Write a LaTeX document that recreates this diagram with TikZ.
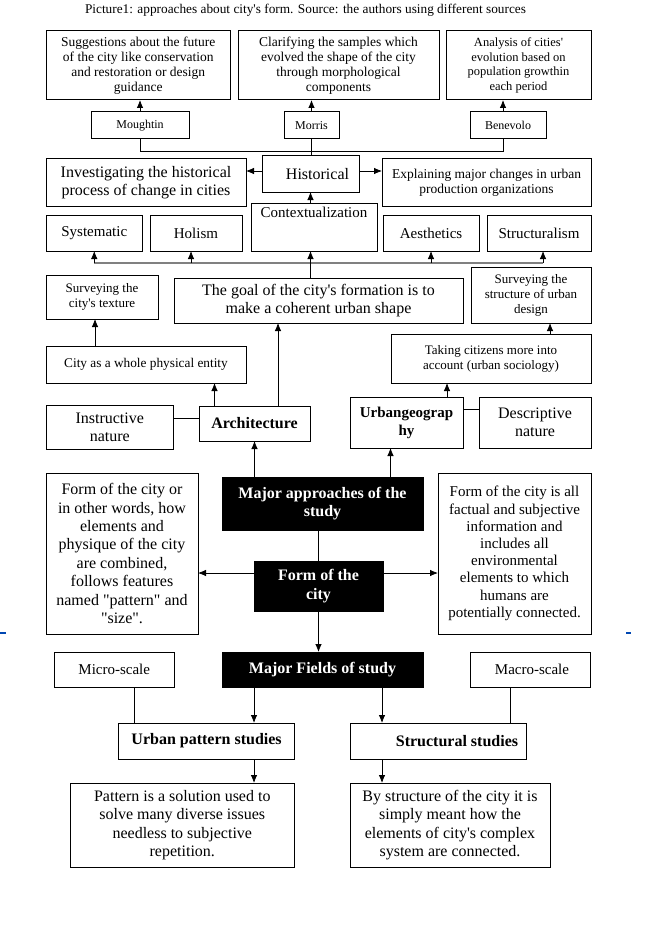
\documentclass[tikz,border=0pt]{standalone}
\usepackage{fontspec}
\setmainfont{Liberation Serif}[Ligatures=TeXOff]
\usepackage{tikz}
\usetikzlibrary{arrows.meta}
\tikzset{>={Latex[length=8pt,width=6.5pt]}}

\begin{document}
\begin{tikzpicture}[x=1pt, y=-1pt, line width=0.8pt,
    box/.style={draw, line width=1pt, inner sep=0pt, outer sep=0pt, align=center},
    wh/.style 2 args={minimum width=#1, minimum height=#2},
    dark/.style={box, fill=black, text=white, font=\bfseries\fontsize{16}{18.4}\selectfont},
    big/.style={font=\fontsize{16}{18.4}\selectfont},
    bigb/.style={font=\bfseries\fontsize{16}{18.4}\selectfont},
    med/.style={font=\fontsize{15}{17.2}\selectfont},
    mid/.style={font=\fontsize{13.5}{15}\selectfont},
    small/.style={font=\fontsize{12.5}{14.5}\selectfont},
    busline/.style={line width=2pt, draw=black!50},
    pagemark/.style={line width=1.2pt, draw=blue!60!cyan!70!black}]
    \useasboundingbox (0,0) rectangle (657,928);

    % Coordinates
    \coordinate (bus) at (310,263);
    \coordinate (laneL) at (254,0);
    \coordinate (laneR) at (382,0);

    % Title
    \node[font=\fontsize{13.3}{15}\selectfont] (title) at (305.5,10) {Picture1: approaches about city's form. Source: the authors using different sources};

    % Authors
    \node[box, mid, wh={184.5}{69}] (sugg) at (138.25,65.5) {Suggestions about the future\\of the city like conservation\\and restoration or design\\guidance};
    \node[box, mid, wh={201}{69}] (clar) at (338.5,65.5) {Clarifying the samples which\\evolved the shape of the city\\through morphological\\components};
    \node[box, small, wh={145}{69}] (anal) at (518.5,65.5) {Analysis of cities'\\evolution based on\\population growthin\\each period};
    \node[box, font=\fontsize{12}{14}\selectfont, wh={98}{27}] (moug) at (140,125.5) {Moughtin};
    \node[box, font=\fontsize{12}{14}\selectfont, wh={55}{27}] (morr) at (311.5,125.5) {Morris};
    \node[box, font=\fontsize{12}{14}\selectfont, wh={76}{27}] (bene) at (508,125.5) {Benevolo};

    % Historical
    \node[box, big, wh={97}{36}] (hist) at (310.5,174) {\hspace*{14pt}Historical};
    \node[box, big, wh={200}{47}] (inv) at (146,182.5) {Investigating the historical\\process of change in cities};
    \node[box, mid, wh={209}{47}] (expl) at (486.5,182.5) {Explaining major changes in urban\\production organizations};
    \node[box, wh={126}{48}, label={[med, anchor=north]north:Contextualization}] (ctx) at (314,227) {};

    % Features
    \node[box, med, wh={96.5}{36}] (sys) at (94.25,233) {Systematic};
    \node[box, med, wh={92}{36}] (hol) at (196,233) {Holism};
    \node[box, med, wh={96}{36}] (aes) at (431,233) {Aesthetics};
    \node[box, med, wh={104}{36}] (str) at (539,233) {Structuralism};

    % Architecture side
    \node[box, font=\fontsize{13}{15}\selectfont, wh={112}{44}] (tex) at (102,297) {Surveying the\\city's texture};
    \node[box, big, wh={289}{45}] (goal) at (318.5,300.5) {The goal of the city's formation is to\\make a coherent urban shape};
    \node[box, font=\fontsize{13}{15}\selectfont, wh={120}{56}] (stru) at (531,295) {Surveying the\\structure of urban\\design};
    \node[box, font=\fontsize{13.3}{15}\selectfont, wh={200}{37}] (whole) at (146,364.5) {City as a whole physical entity};
    \node[box, font=\fontsize{13}{15}\selectfont, wh={200}{49}] (take) at (491,358.5) {Taking citizens more into\\account (urban sociology)};
    \node[box, big, wh={127.5}{44}] (ins) at (109.75,427) {Instructive\\nature};
    \node[box, bigb, wh={111}{35}] (arch) at (254.5,423.5) {Architecture};
    \node[box, font=\bfseries\fontsize{15}{18}\selectfont, wh={113}{51}] (urb) at (406.5,422.5) {Urbangeograp\\hy};
    \node[box, big, wh={112}{51}] (des) at (535,422.5) {Descriptive\\nature};

    % Form of the city
    \node[dark, wh={201}{53}] (maj) at (322.5,503.5) {Major approaches of the\\study};
    \node[box, big, wh={152}{161}] (left) at (122,553.5) {Form of the city or\\in other words, how\\elements and\\physique of the city\\are combined,\\follows features\\named "pattern" and\\"size".};
    \node[box, med, wh={153}{161}] (right) at (514.5,553.5) {Form of the city is all\\factual and subjective\\information and\\includes all\\environmental\\elements to which\\humans are\\potentially connected.};
    \node[dark, wh={129}{50}] (form) at (318.5,586) {Form of the\\city};

    % Fields
    \node[dark, wh={201}{35}] (fld) at (322.5,669.5) {Major Fields of study};
    \node[box, med, wh={119.5}{35}] (mic) at (114.25,669.5) {Micro-scale};
    \node[box, med, wh={120}{35}] (mac) at (530,669.5) {\hspace*{4pt}Macro-scale};
    \node[box, bigb, wh={176}{36}] (upat) at (206.6,741) {Urban pattern studies};
    \node[box, bigb, wh={176}{36}] (strs) at (438,741) {\hspace*{38pt}Structural studies};
    \node[box, big, wh={224.6}{84}] (pat) at (182.3,825) {Pattern is a solution used to\\solve many diverse issues\\needless to subjective\\repetition.};
    \node[box, big, wh={200}{84}] (bys) at (450,825) {By structure of the city it is\\simply meant how the\\elements of city's complex\\system are connected.};

    % Lines (top)
    \draw[->] (moug.north) -- (moug.north |- sugg.south);
    \draw[->] (morr.north) -- (morr.north |- clar.south);
    \draw[->] ([xshift=-5pt]bene.north) -- ([xshift=-5pt]bene.north |- anal.south);
    \draw (moug.south) -- ++(0,12) -| ([xshift=-5pt]bene.south);
    \draw (morr.south) -- (morr.south |- hist.north);
    \draw[->] ([yshift=3pt]hist.west) -- ([yshift=3pt]hist.west -| inv.east);
    \draw[->] ([yshift=3pt]hist.east) -- ([yshift=3pt]hist.east -| expl.west);
    \draw[->] (hist.south |- ctx.north) -- (hist.south);

    % Bus
    \draw[busline] (sys.south |- bus) -- ([xshift=4pt]str.south |- bus);
    \draw[->] (sys.south |- bus) -- (sys.south);
    \draw[->] ([xshift=-5pt]hol.south |- bus) -- ([xshift=-5pt]hol.south);
    \draw[->] (aes.south |- bus) -- (aes.south);
    \draw[->] ([xshift=4pt]str.south |- bus) -- ([xshift=4pt]str.south);
    \draw[->] (hist.south |- goal.north) -- (hist.south |- ctx.south);

    % Lines (middle)
    \draw[->] ([xshift=-7pt]tex.south |- whole.north) -- ([xshift=-7pt]tex.south);
    \draw[->] ([xshift=19pt]stru.south |- take.north) -- ([xshift=19pt]stru.south);
    \draw ([yshift=5.5pt]arch.west) -- ([yshift=5.5pt]arch.west -| ins.east);
    \draw[->] ([xshift=-40pt]arch.north) -- ([xshift=-40pt]arch.north |- whole.south);
    \draw[->] ([xshift=23.5pt]arch.north) -- ([xshift=23.5pt]arch.north |- goal.south);
    \draw ([yshift=13pt]urb.east) -- ([yshift=13pt]urb.east -| des.west);
    \draw[->] ([xshift=40.5pt]urb.north) -- ([xshift=40.5pt]urb.north |- take.south);
    \draw[->] (arch.south |- maj.north) -- (arch.south);
    \draw[->] ([xshift=-16pt]urb.south |- maj.north) -- ([xshift=-16pt]urb.south);

    % Lines (bottom)
    \draw (form.north |- maj.south) -- (form.north);
    \draw[->] ([yshift=13pt]form.west) -- ([yshift=13pt]form.west -| left.east);
    \draw[->] ([yshift=13pt]form.east) -- ([yshift=13pt]form.east -| right.west);
    \draw[->] (form.south) -- (form.south |- fld.north);
    \draw[->] (fld.south -| laneL) -- (upat.north -| laneL);
    \draw[->] (fld.south -| laneR) -- (strs.north -| laneR);
    \draw[->] (upat.south -| laneL) -- (pat.north -| laneL);
    \draw[->] (strs.south -| laneR) -- (bys.north -| laneR);
    \draw ([xshift=20pt]mic.south) -- ([xshift=20pt]mic.south |- upat.north);
    \draw ([xshift=-19.5pt]mac.south) -- ([xshift=-19.5pt]mac.south |- strs.north);

    % Page marks
    \draw[pagemark] (0,633) -- (6,633);
    \draw[pagemark] (626,633) -- (631,633);
\end{tikzpicture}
\end{document}
